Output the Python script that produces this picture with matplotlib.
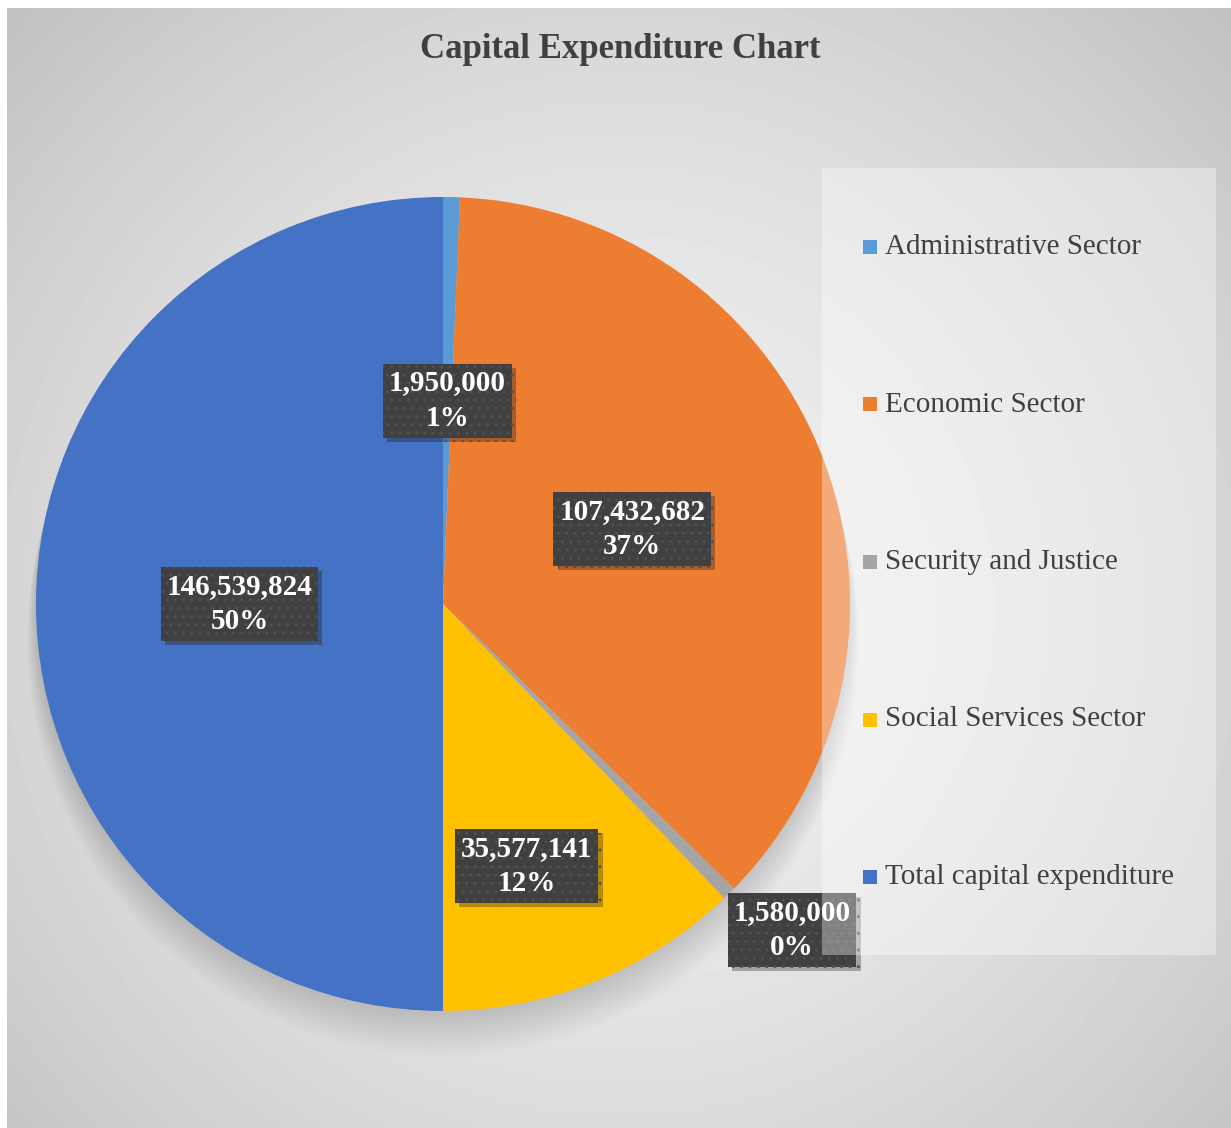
"""Capital expenditure pie chart (Excel-style)."""
import matplotlib
matplotlib.use("Agg")  # non-interactive backend
import matplotlib.pyplot as plt
import matplotlib.patheffects as pe
from matplotlib.patches import Rectangle, Circle
import numpy as np

# data
sectors = [
    "Administrative Sector",
    "Economic Sector",
    "Security and Justice",
    "Social Services Sector",
    "Total capital expenditure",
]
amounts = [1950000, 107432682, 1580000, 35577141, 146539824]
pct_labels = ["1%", "37%", "0%", "12%", "50%"]
colors = ["#5B9BD5", "#ED7D31", "#A5A5A5", "#FFC000", "#4472C4"]
# data label placement: fraction of radius and angle nudge (deg)
label_r = [0.5, 0.5, 1.173, 0.676, 0.5]
label_dang = [0, 0, 2.3, -4.1, 0]

W, H = 1231, 1128
SERIF = ["Liberation Serif", "DejaVu Serif"]

fig = plt.figure(figsize=(W / 100, H / 100), dpi=100, facecolor="white")

# radial gradient background of the chart area
bg = fig.add_axes([7 / W, 0, 1 - 7 / W, 1 - 8 / H])
h, w = H - 8, W - 7
yy, xx = np.mgrid[0:h, 0:w]
d = np.hypot(xx - 613, yy - 600) / np.hypot(613, 600)
shade = 0.945 - 0.19 * np.clip(d, 0, 1.2) ** 1.6
bg.imshow(shade, cmap="gray", vmin=0, vmax=1, aspect="auto",
          extent=[0, w, h, 0], interpolation="bilinear")
bg.set_axis_off()

fig.text(620 / W, 1 - 50 / H, "Capital Expenditure Chart", ha="center",
         va="center", fontsize=25, fontweight="bold", color="#404040",
         family=SERIF)

# pie axes, centre (443, 604) px, radius 407 px
cx, cy, R = 443, 604, 407
ax = fig.add_axes([(cx - R) / W, (H - cy - R) / H, 2 * R / W, 2 * R / H])
ax.set_axis_off()

# soft shadow under the pie
for k in range(12):
    ax.add_patch(Circle((0, -0.01 - 0.007 * k), 1.0 + 0.002 * k,
                        color="black", alpha=0.012, lw=0, zorder=0,
                        clip_on=False))

wedges, _ = ax.pie(amounts, colors=colors, startangle=90, counterclock=False,
                   radius=1, wedgeprops=dict(linewidth=0, zorder=1))
ax.set_xlim(-1, 1)
ax.set_ylim(-1, 1)

for wdg, amt, pct, r, da in zip(wedges, amounts, pct_labels, label_r,
                                label_dang):
    mid = np.deg2rad((wdg.theta1 + wdg.theta2) / 2 + da)
    t = ax.text(r * np.cos(mid), r * np.sin(mid), f"{amt:,}\n{pct}",
                ha="center", va="center", fontsize=21, fontweight="bold",
                color="white", family=SERIF, linespacing=1.4, zorder=5,
                bbox=dict(boxstyle="square,pad=0.2", fc="#404040",
                          ec="#505050", lw=0, hatch=".."))
    t.get_bbox_patch().set_path_effects(
        [pe.SimplePatchShadow(offset=(3, -3), alpha=0.3), pe.Normal()])

# legend drawn by hand so the spacing matches
lx0, ly0, lx1, ly1 = 822, 168, 1216, 955
fig.patches.append(Rectangle((lx0 / W, 1 - ly1 / H), (lx1 - lx0) / W,
                             (ly1 - ly0) / H, transform=fig.transFigure,
                             facecolor="white", alpha=0.35, lw=0, zorder=5))
for i, (name, col) in enumerate(zip(sectors, colors)):
    ey = 247 + i * 157.5
    fig.patches.append(Rectangle((863 / W, 1 - (ey + 7) / H), 14 / W, 14 / H,
                                 transform=fig.transFigure, facecolor=col,
                                 lw=0, zorder=6))
    fig.text(885 / W, 1 - ey / H, name, ha="left", va="center", fontsize=21,
             color="#404040", family=SERIF, zorder=6)

fig.savefig("out.png", dpi=100, facecolor="white")
plt.close(fig)
